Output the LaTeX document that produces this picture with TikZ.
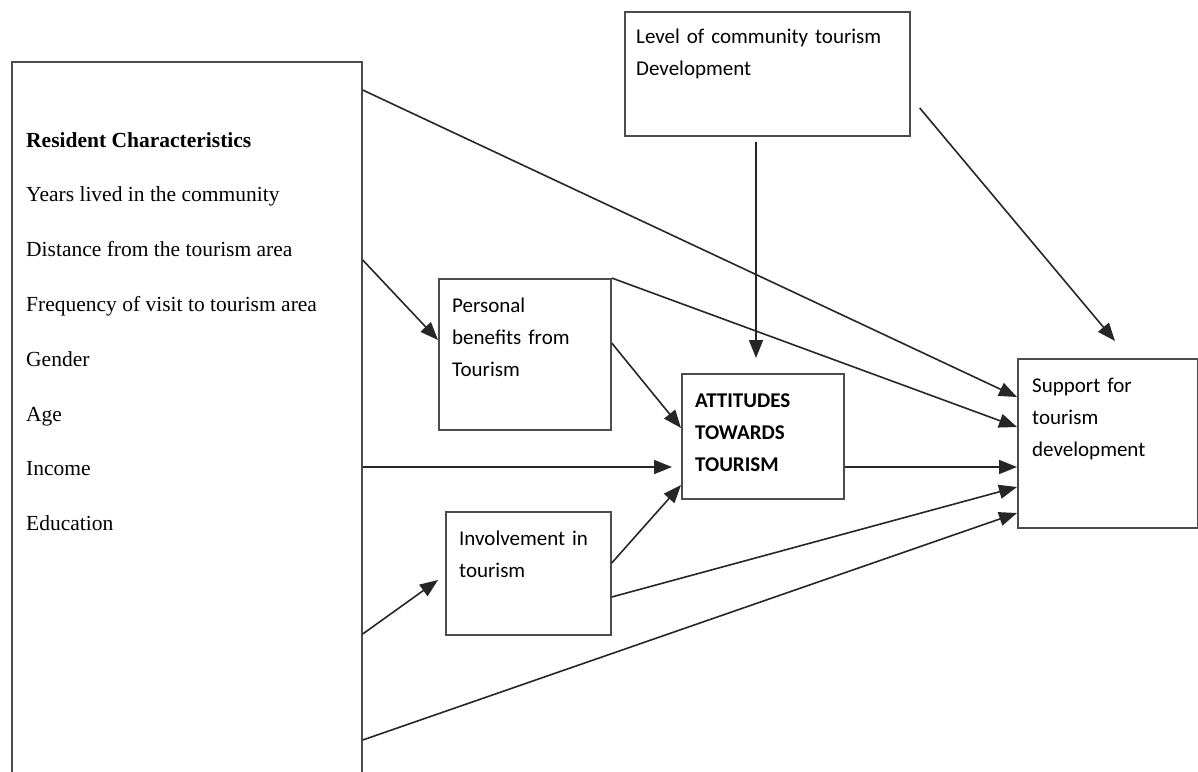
\documentclass[tikz,border=0pt]{standalone}
\usepackage{fontspec}
\setmainfont{Liberation Serif}
\newfontfamily\calibri{Carlito}
\usetikzlibrary{arrows.meta,calc,positioning}

\begin{document}
\begin{tikzpicture}[x=1pt,y=-1pt,
    box/.style={draw=black!70, line width=1.7pt, anchor=north west, inner sep=0pt},
    boxtext/.style={anchor=base west, align=left, inner sep=0pt, text width=260pt,
        font=\calibri\fontsize{21}{32}\selectfont},
    link/.style={draw=black!85, line width=1.6pt, -{Triangle[length=18pt,width=14pt]}}]
    \useasboundingbox (0,0) rectangle (1198,771);

    % Resident characteristics
    \node[box, minimum width=350pt, minimum height=730pt] (res) at (11,61) {};
    \foreach \t [count=\i from 0] in {\textbf{Resident Characteristics},
        Years lived in the community, Distance from the tourism area,
        Frequency of visit to tourism area, Gender, Age, Income, Education}
        \node[anchor=base west, inner sep=0pt, font=\fontsize{21.5}{26}\selectfont]
            (res-\i) at (26,147+54.8*\i) {\t};

    % Level of development
    \node[box, minimum width=285pt, minimum height=124pt] (lev) at (624,11) {};
    \node[boxtext] (levtext) at ([shift={(12,32)}]lev.north west)
        {Level of community tourism\\Development};

    % Middle boxes
    \node[box, minimum width=172pt, minimum height=151pt] (pers) at (438,278) {};
    \node[boxtext] (perstext) at ([shift={(14,34)}]pers.north west)
        {Personal\\benefits from\\Tourism};
    \node[box, minimum width=165pt, minimum height=123pt] (inv) at (445,511) {};
    \node[boxtext] (invtext) at ([shift={(14,34)}]inv.north west)
        {Involvement in\\tourism};
    \node[box, minimum width=162pt, minimum height=125pt] (att) at (681,373) {};
    \node[boxtext, font=\calibri\bfseries\fontsize{21}{32}\selectfont] (atttext)
        at ([shift={(14,34)}]att.north west) {ATTITUDES\\TOWARDS\\TOURISM};

    % Support
    \node[box, minimum width=180pt, minimum height=169pt] (sup) at (1017,358) {};
    \node[boxtext] (suptext) at ([shift={(15,34)}]sup.north west)
        {Support for\\tourism\\development};

    % Paths
    \draw[link] ([shift={(0,29)}]res.north east) -- ([shift={(0,39)}]sup.north west);
    \draw[link] ([shift={(0,199)}]res.north east) -- ([shift={(0,62)}]pers.north west);
    \draw[link] ([shift={(0,406)}]res.north east) -- ([shift={(-9,94)}]att.north west);
    \draw[link] ([shift={(0,573)}]res.north east) -- ([shift={(-7,69)}]inv.north west);
    \draw[link] ([shift={(0,679)}]res.north east) -- ([shift={(0,155)}]sup.north west);
    \draw[link] (pers.north east) -- ([shift={(0,69)}]sup.north west);
    \draw[link] ([shift={(0,65)}]pers.north east) -- ([shift={(0,55)}]att.north west);
    \draw[link] ([shift={(0,52)}]inv.north east) -- ([shift={(0,112)}]att.north west);
    \draw[link] ([shift={(0,86)}]inv.north east) -- ([shift={(0,129)}]sup.north west);
    \draw[link] ([shift={(0,94)}]att.north east) -- ([shift={(0,109)}]sup.north west);
    \draw[link] ([shift={(132,5)}]lev.south west) -- ([shift={(75,-15)}]att.north west);
    \draw[link] ([shift={(9,97)}]lev.north east) -- ([shift={(98,-17)}]sup.north west);
\end{tikzpicture}
\end{document}
